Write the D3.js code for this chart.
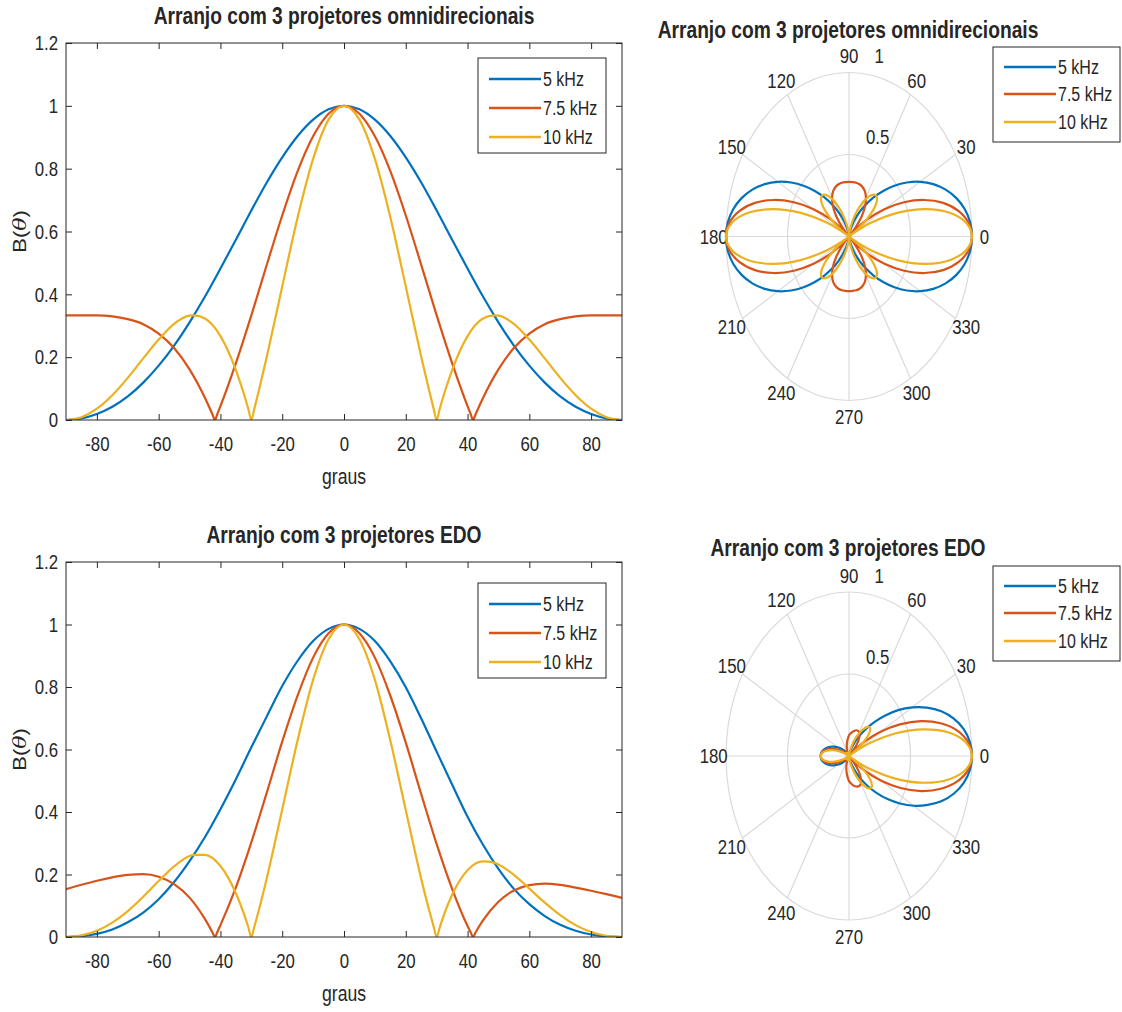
<!DOCTYPE html>
<html>
<head>
<meta charset="utf-8">
<script src="https://cdn.jsdelivr.net/npm/d3@7"></script>
<style>
  html, body { margin: 0; padding: 0; background: #ffffff; }
  svg { display: block; }
</style>
</head>
<body>
<svg id="fig" width="1122" height="1012"></svg>
<script>
// ---------------- data ----------------
const seriesNames = ["5 kHz", "7.5 kHz", "10 kHz"];
const titleOmni = "Arranjo com 3 projetores omnidirecionais";
const titleEdo = "Arranjo com 3 projetores EDO";
const xLabelText = "graus";

const xTicks = [-80, -60, -40, -20, 0, 20, 40, 60, 80];
const yTicks = [0, 0.2, 0.4, 0.6, 0.8, 1, 1.2];
const polarAngleTicks = [0, 30, 60, 90, 120, 150, 180, 210, 240, 270, 300, 330];
const polarSpokes = [0, 30, 60, 90, 120, 150];
const polarRings = [0.5, 1];

// angle samples (degrees) for each frequency, front half -90..90
const angles5 = [-90,-85,-80,-75,-70,-65,-60,-55,-50,-45,-40,-35,-30,-25,-20,-15,-10,-5,0,5,10,15,20,25,30,35,40,45,50,55,60,65,70,75,80,85,90];
const angles75 = [-90,-85,-80,-75,-70,-65,-60,-55,-50,-45,-42.5,-41.8,-41,-40,-35,-30,-25,-20,-15,-10,-5,0,5,10,15,20,25,30,35,40,41,41.8,42.5,45,50,55,60,65,70,75,80,85,90];
const angles10 = [-90,-85,-80,-75,-70,-65,-60,-55,-50,-48.6,-45,-40,-35,-32.5,-31,-30,-29,-27.5,-25,-20,-15,-10,-5,0,5,10,15,20,25,27.5,29,30,31,32.5,35,40,45,48.6,50,55,60,65,70,75,80,85,90];

// beam pattern, omnidirectional projectors
const omni5 = [0,0.005,0.019,0.042,0.075,0.119,0.173,0.237,0.311,0.393,0.482,0.574,0.667,0.756,0.836,0.904,0.956,0.989,1,0.989,0.956,0.904,0.836,0.756,0.667,0.574,0.482,0.393,0.311,0.237,0.173,0.119,0.075,0.042,0.019,0.005,0];
const omni75 = [0.333,0.333,0.333,0.330,0.321,0.305,0.275,0.229,0.161,0.070,0.016,0,0.019,0.044,0.181,0.333,0.494,0.651,0.792,0.903,0.975,1,0.975,0.903,0.792,0.651,0.494,0.333,0.181,0.044,0.019,0,0.016,0.070,0.161,0.229,0.275,0.305,0.321,0.330,0.333,0.333,0.333];
const omni10 = [0,0.009,0.036,0.079,0.134,0.196,0.256,0.306,0.332,0.333,0.323,0.267,0.159,0.086,0.036,0,0.037,0.096,0.201,0.425,0.645,0.831,0.956,1,0.956,0.831,0.645,0.425,0.201,0.096,0.037,0,0.036,0.086,0.159,0.267,0.323,0.333,0.332,0.306,0.256,0.196,0.134,0.079,0.036,0.009,0];

// beam pattern, EDO projectors (front half)
const edo5 = [0,0.003,0.010,0.024,0.047,0.078,0.121,0.176,0.243,0.320,0.409,0.505,0.607,0.706,0.803,0.884,0.947,0.986,1,0.986,0.947,0.882,0.799,0.699,0.593,0.488,0.385,0.295,0.218,0.154,0.105,0.067,0.039,0.020,0.008,0.002,0];
const edo75 = [0.153,0.167,0.180,0.191,0.199,0.201,0.193,0.169,0.126,0.057,0.013,0,0.016,0.038,0.159,0.303,0.462,0.625,0.773,0.894,0.972,1,0.972,0.894,0.772,0.622,0.457,0.297,0.154,0.035,0.015,0,0.013,0.053,0.113,0.149,0.166,0.171,0.167,0.158,0.148,0.137,0.125];
const edo10 = [0,0.005,0.020,0.046,0.083,0.129,0.179,0.226,0.259,0.263,0.263,0.227,0.140,0.077,0.032,0,0.034,0.089,0.188,0.408,0.630,0.823,0.953,1,0.953,0.823,0.629,0.406,0.186,0.088,0.034,0,0.031,0.075,0.135,0.214,0.242,0.238,0.232,0.199,0.155,0.110,0.070,0.038,0.016,0.004,0];

// EDO projectors, rear half (polar angle 95..265 degrees)
const backAngles5 = [95,100,105,110,115,120,125,130,135,140,145,150,155,160,165,170,175,180,185,190,195,200,205,210,215,220,225,230,235,240,245,250,255,260,265];
const backAngles75 = [95,100,105,110,115,120,125,130,135,138.2,140,145,150,155,160,165,170,175,180,185,190,195,200,205,210,215,220,221.8,225,230,235,240,245,250,255,260,265];
const backAngles10 = backAngles5;
const edoBack5 = [0.002,0.005,0.009,0.012,0.013,0.010,0.004,0.011,0.030,0.053,0.083,0.107,0.134,0.163,0.190,0.212,0.226,0.230,0.226,0.212,0.190,0.163,0.134,0.107,0.083,0.053,0.030,0.011,0.004,0.012,0.015,0.014,0.011,0.006,0.002];
const edoBack75 = [0.107,0.088,0.069,0.050,0.032,0.017,0.003,0.006,0.005,0,0.005,0.026,0.054,0.088,0.127,0.166,0.200,0.223,0.230,0.223,0.200,0.166,0.127,0.088,0.054,0.026,0.005,0,0.005,0.006,0.003,0.019,0.040,0.061,0.084,0.106,0.130];
const edoBack10 = [0.003,0.010,0.017,0.021,0.021,0.015,0.005,0.012,0.024,0.029,0.023,0,0.036,0.083,0.136,0.184,0.219,0.230,0.219,0.184,0.136,0.083,0.036,0,0.023,0.029,0.024,0.012,0.005,0.018,0.025,0.025,0.020,0.012,0.004];

// ---------------- styling ----------------
const COLORS = ["#0072BD", "#D95319", "#EDB120"];
const INK = "#262626";
const GRID = "#dadada";
const FONT = "'Liberation Sans', Arial, Helvetica, sans-serif";
const KX = 0.8;            // horizontal squeeze applied to all lettering
const FS_TICK = 21, FS_LABEL = 22, FS_TITLE = 24, FS_LEGEND = 20, FS_POLAR = 21;
const LW = 2.2;

const svg = d3.select("#fig");
svg.append("rect").attr("width", 1122).attr("height", 1012).attr("fill", "#fff");

function zip(a, v) { return a.map((t, i) => [t, v[i]]); }
const plainNumber = d => String(d);   // hyphen-minus, as in the printed labels

function putText(g, x, y, str, size, opts = {}) {
  const t = g.append("text")
    .attr("transform", `translate(${x},${y}) scale(${KX},1)`)
    .attr("text-anchor", opts.anchor || "middle")
    .attr("font-family", FONT)
    .attr("font-size", size)
    .attr("font-weight", opts.bold ? "bold" : "normal")
    .attr("fill", INK);
  if (opts.dy) t.attr("dy", opts.dy);
  t.text(str);
  return t;
}

function legend(g, x0, y0, w, h, rowY) {
  g.append("rect").attr("x", x0).attr("y", y0).attr("width", w).attr("height", h)
    .attr("fill", "#fff").attr("stroke", INK).attr("stroke-width", 1);
  seriesNames.forEach((name, i) => {
    const yy = y0 + rowY[i];
    g.append("line").attr("x1", x0 + 11).attr("x2", x0 + 63).attr("y1", yy).attr("y2", yy)
      .attr("stroke", COLORS[i]).attr("stroke-width", 2.6);
    putText(g, x0 + 65, yy, name, FS_LEGEND, { anchor: "start", dy: "0.35em" });
  });
}

// ---------------- cartesian panel ----------------
function cartesianPanel(cfg) {
  const g = svg.append("g");
  const x = d3.scaleLinear().domain([-90, 90]).range([cfg.left, cfg.right]);
  const y = d3.scaleLinear().domain([0, 1.2]).range([cfg.bottom, cfg.top]);

  const clipId = "clip" + cfg.id;
  g.append("clipPath").attr("id", clipId).append("rect")
    .attr("x", cfg.left).attr("y", cfg.top - 2)
    .attr("width", cfg.right - cfg.left).attr("height", cfg.bottom - cfg.top + 2);

  const line = d3.line().x(d => x(d[0])).y(d => y(d[1])).curve(d3.curveMonotoneX);
  cfg.series.forEach((s, i) => {
    g.append("path").attr("d", line(s)).attr("fill", "none")
      .attr("stroke", COLORS[i]).attr("stroke-width", LW).attr("stroke-linejoin", "round")
      .attr("clip-path", `url(#${clipId})`);
  });

  const styleAxis = a => {
    a.select(".domain").remove();
    a.selectAll(".tick line").attr("stroke", INK);
    a.selectAll("text").attr("fill", INK).attr("font-family", FONT).attr("font-size", FS_TICK);
  };

  const bx = g.append("g").attr("transform", `translate(0,${cfg.bottom})`)
    .call(d3.axisBottom(x).tickValues(xTicks).tickSize(-6).tickPadding(16).tickFormat(plainNumber));
  styleAxis(bx);
  bx.selectAll("text").attr("transform", `scale(${KX},1)`);

  const ly = g.append("g").attr("transform", `translate(${cfg.left},0)`)
    .call(d3.axisLeft(y).tickValues(yTicks).tickSize(-6).tickFormat(plainNumber));
  styleAxis(ly);
  ly.selectAll("text").attr("x", -8 / KX).attr("transform", `scale(${KX},1)`);

  const tx = g.append("g").attr("transform", `translate(0,${cfg.top})`)
    .call(d3.axisTop(x).tickValues(xTicks).tickSize(-6).tickFormat(""));
  styleAxis(tx);
  const ry = g.append("g").attr("transform", `translate(${cfg.right},0)`)
    .call(d3.axisRight(y).tickValues(yTicks).tickSize(-6).tickFormat(""));
  styleAxis(ry);

  g.append("rect").attr("x", cfg.left).attr("y", cfg.top)
    .attr("width", cfg.right - cfg.left).attr("height", cfg.bottom - cfg.top)
    .attr("fill", "none").attr("stroke", INK).attr("stroke-width", 1);

  const midX = (cfg.left + cfg.right) / 2;
  putText(g, midX, cfg.top - 19, cfg.title, FS_TITLE, { bold: true });
  putText(g, midX, cfg.bottom + 64, xLabelText, FS_LABEL);

  const yl = g.append("text")
    .attr("transform", `translate(${cfg.left - 40},${(cfg.top + cfg.bottom) / 2}) scale(${KX},1) rotate(-90)`)
    .attr("text-anchor", "middle").attr("font-family", FONT).attr("font-size", FS_LABEL).attr("fill", INK);
  yl.append("tspan").text("B(");
  yl.append("tspan").attr("font-style", "italic").attr("font-family", "'DejaVu Serif', serif").text("θ");
  yl.append("tspan").text(")");

  legend(g, cfg.legend[0], cfg.legend[1], 128, 95, [21, 50, 79]);
}

// ---------------- polar panel ----------------
function polarPanel(cfg) {
  const g = svg.append("g");
  const rX = d3.scaleLinear().domain([0, 1]).range([0, cfg.rx]);
  const rY = d3.scaleLinear().domain([0, 1]).range([0, cfg.ry]);
  const rad = a => a * Math.PI / 180;
  const px = (a, r) => cfg.cx + rX(r) * Math.cos(rad(a));
  const py = (a, r) => cfg.cy - rY(r) * Math.sin(rad(a));

  polarSpokes.forEach(a => {
    g.append("line").attr("x1", px(a, 1)).attr("y1", py(a, 1))
      .attr("x2", px(a + 180, 1)).attr("y2", py(a + 180, 1))
      .attr("stroke", GRID).attr("stroke-width", 1.2);
  });
  polarRings.forEach(r => {
    g.append("ellipse").attr("cx", cfg.cx).attr("cy", cfg.cy)
      .attr("rx", rX(r)).attr("ry", rY(r))
      .attr("fill", "none").attr("stroke", GRID).attr("stroke-width", 1.2);
  });

  polarAngleTicks.forEach(a => {
    putText(g, px(a, 1.1), py(a, 1.1), String(a), FS_POLAR, { dy: "0.35em" });
  });
  polarRings.forEach(r => {
    putText(g, px(82, r + 0.025) + 8, py(82, r + 0.025) - 7, String(r), FS_POLAR, { anchor: "start" });
  });

  const line = d3.line().x(d => px(d[0], d[1])).y(d => py(d[0], d[1]))
    .curve(d3.curveCatmullRomClosed.alpha(0.5));
  cfg.series.forEach((pts, i) => {
    g.append("path").attr("d", line(pts)).attr("fill", "none")
      .attr("stroke", COLORS[i]).attr("stroke-width", LW).attr("stroke-linejoin", "round");
  });

  putText(g, cfg.cx - 1, cfg.titleY, cfg.title, FS_TITLE, { bold: true });
  legend(g, cfg.legend[0], cfg.legend[1], 127, 95, [20, 47, 75]);
}

// front-half samples continued to the rear by mirror symmetry (omnidirectional case)
function mirroredPolar(front) {
  const back = front.slice(1, -1).reverse().map(([t, v]) => [180 - t, v]);
  return front.concat(back);
}

const omniSeries = [zip(angles5, omni5), zip(angles75, omni75), zip(angles10, omni10)];
const edoSeries = [zip(angles5, edo5), zip(angles75, edo75), zip(angles10, edo10)];
const edoRear = [zip(backAngles5, edoBack5), zip(backAngles75, edoBack75), zip(backAngles10, edoBack10)];

cartesianPanel({ id: "a", left: 66, right: 622, top: 43, bottom: 420,
  title: titleOmni, series: omniSeries, legend: [478, 58] });
cartesianPanel({ id: "b", left: 66, right: 622, top: 562, bottom: 937,
  title: titleEdo, series: edoSeries, legend: [478, 583] });

polarPanel({ cx: 849, cy: 236.5, rx: 123, ry: 164, title: titleOmni, titleY: 38,
  series: omniSeries.map(mirroredPolar), legend: [993, 47] });
polarPanel({ cx: 849, cy: 756, rx: 123, ry: 164, title: titleEdo, titleY: 556,
  series: edoSeries.map((s, i) => s.concat(edoRear[i])), legend: [993, 566] });
</script>
</body>
</html>
